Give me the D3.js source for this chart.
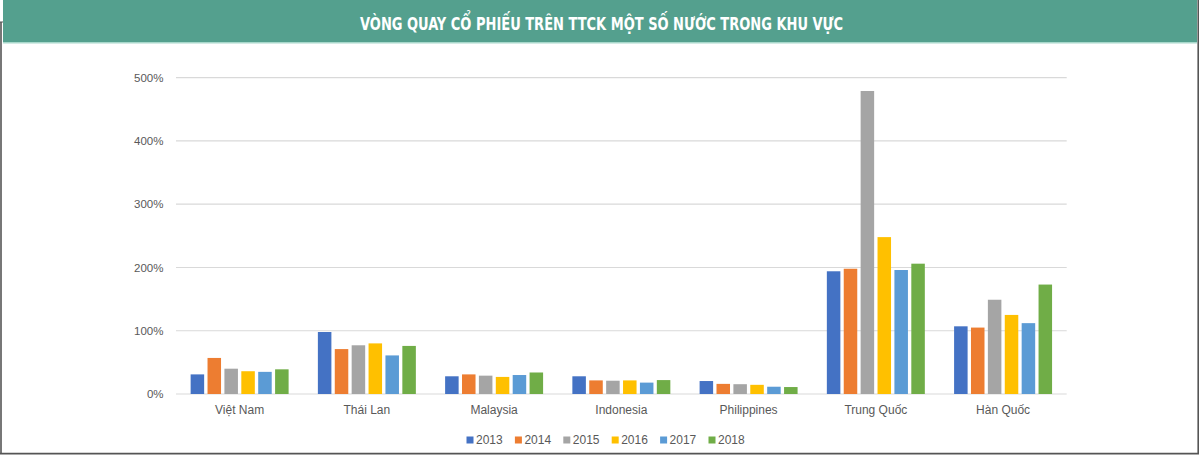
<!DOCTYPE html>
<html><head><meta charset="utf-8">
<script src="https://cdn.jsdelivr.net/npm/d3@7"></script>
<style>
html,body{margin:0;padding:0;background:#fff;}
svg{display:block;}
</style></head>
<body>
<svg id="chart" width="1200" height="455"></svg>
<script>
const title = "VÒNG QUAY CỔ PHIẾU TRÊN TTCK MỘT SỐ NƯỚC TRONG KHU VỰC";
const categories = ["Việt Nam","Thái Lan","Malaysia","Indonesia","Philippines","Trung Quốc","Hàn Quốc"];
const years = ["2013","2014","2015","2016","2017","2018"];
const v2013 = [31, 98, 28, 28, 20.5, 194, 107];
const v2014 = [57, 71, 31, 21.5, 16, 198, 105];
const v2015 = [40, 77, 29, 21, 15.5, 479, 149];
const v2016 = [36, 80, 27, 21.5, 14.5, 248, 125];
const v2017 = [35, 61, 30, 18, 11.5, 196, 112];
const v2018 = [39, 76, 34, 22, 11, 206, 173];
const yTicks = [0, 100, 200, 300, 400, 500];
const colors = ["#4472C4","#ED7D31","#A5A5A5","#FFC000","#5B9BD5","#70AD47"];

const seriesValues = [v2013, v2014, v2015, v2016, v2017, v2018];
const svg = d3.select("#chart");
const textColor = "#595959";
const font = "'Liberation Sans', Arial, sans-serif";

// header
svg.append("rect").attr("x",3).attr("y",0).attr("width",1194).attr("height",42).attr("fill","#54A08E");
svg.append("rect").attr("x",3).attr("y",42).attr("width",1194).attr("height",1.5).attr("fill","#A8D8CB");
svg.append("text").attr("x",601.5).attr("y",29.5).attr("text-anchor","middle")
  .attr("fill","#fff").attr("font-weight","bold").attr("font-size",18.5)
  .attr("font-family","'Liberation Sans Narrow','DejaVu Sans Condensed','Open Sans',sans-serif")
  .attr("font-stretch","condensed")
  .attr("textLength",483).attr("lengthAdjust","spacingAndGlyphs")
  .text(title);

// frame
const frame = "#555";
svg.append("line").attr("x1",1).attr("x2",1).attr("y1",22).attr("y2",454).attr("stroke",frame).attr("stroke-width",1.6);
svg.append("line").attr("x1",0).attr("x2",3).attr("y1",22).attr("y2",22).attr("stroke",frame).attr("stroke-width",1);
svg.append("line").attr("x1",1198.2).attr("x2",1198.2).attr("y1",0).attr("y2",454).attr("stroke",frame).attr("stroke-width",1.6);
svg.append("line").attr("x1",0).attr("x2",1199).attr("y1",453.6).attr("y2",453.6).attr("stroke",frame).attr("stroke-width",1.6);

// scales
const x0 = d3.scaleBand().domain(categories).range([176, 1066.7]).paddingInner(0.23).paddingOuter(0.115);
const x1 = d3.scaleBand().domain(years).range([0, x0.bandwidth()]).paddingInner(0.2).paddingOuter(0);
const y = d3.scaleLinear().domain([0, 500]).range([394, 77.7]);

// gridlines
svg.append("g").selectAll("line").data(yTicks).join("line")
  .attr("x1",176).attr("x2",1066.7)
  .attr("y1",d=>y(d)).attr("y2",d=>y(d))
  .attr("stroke","#D9D9D9").attr("stroke-width",1.2);

// y axis labels
const yAxis = d3.axisLeft(y).tickValues(yTicks).tickSize(0).tickPadding(12.5).tickFormat(d=>d+"%");
const gy = svg.append("g").attr("transform","translate(176,0)").call(yAxis);
gy.select(".domain").remove();
gy.selectAll("text").attr("fill",textColor).attr("font-size",11.5).attr("font-family",font);

// bars
const gBars = svg.append("g");
years.forEach((yr, si) => {
  gBars.append("g").attr("fill", colors[si]).selectAll("rect")
    .data(categories.map((c, ci) => ({c, v: seriesValues[si][ci]})))
    .join("rect")
    .attr("x", d => x0(d.c) + x1(yr))
    .attr("width", x1.bandwidth())
    .attr("y", d => y(d.v))
    .attr("height", d => y(0) - y(d.v));
});

// x axis labels
const xAxis = d3.axisBottom(x0).tickSize(0).tickPadding(11);
const gx = svg.append("g").attr("transform","translate(0,394)").call(xAxis);
gx.select(".domain").remove();
gx.selectAll("text").attr("fill",textColor).attr("font-size",12).attr("font-family",font);

// legend
const legend = svg.append("g");
const lg = legend.selectAll("g").data(years).join("g")
  .attr("transform",(d,i)=>`translate(${466.5 + i*48.4},440)`);
lg.append("rect").attr("x",0).attr("y",-3.5).attr("width",7).attr("height",7).attr("fill",(d,i)=>colors[i]);
lg.append("text").attr("x",9.5).attr("y",4.3).attr("fill",textColor).attr("font-size",12).attr("font-family",font).text(d=>d);
</script>
</body></html>
